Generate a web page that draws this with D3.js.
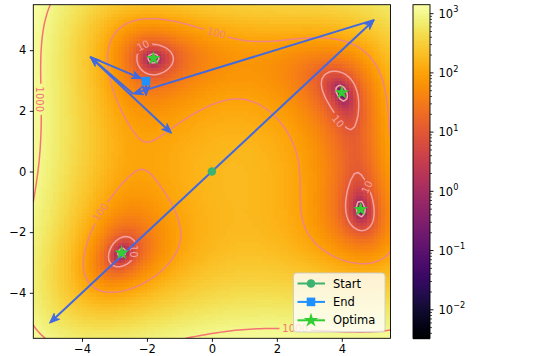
<!DOCTYPE html>
<html>
<head>
<meta charset="utf-8">
<script src="https://cdn.jsdelivr.net/npm/d3@7"></script>
<style>
body { margin: 0; background: #fff; }
text { font-family: "DejaVu Sans", sans-serif; }
</style>
</head>
<body>
<svg id="chart" width="538" height="356"></svg>
<script>
// Surface: Himmelblau function shifted so its four minima sit on the stars
var shift = [1, 0.6];
var gridN = 100;
var extent = [-5.5, 5.5];
var colorLimits = [0.0033, 1417];

var contourLevels = [1, 10, 100, 1000];
var contourColors = ["#f5a8a8", "#f4a2a2", "#f08484", "#f47474"];
// level, x, y, rotation
var contourLabels = [
    [1000, -5.32, 2.38, 90],
    [1000, 2.56, -5.18, 0],
    [100, 0.13, 4.57, 15],
    [100, -3.44, -1.34, -55],
    [10, -2.12, 4.15, -26],
    [10, 3.88, 1.66, 50],
    [10, -2.42, -2.63, 90],
    [10, 4.78, -0.51, -65]
];

var xTicks = [-4, -2, 0, 2, 4];
var yTicks = [-4, -2, 0, 2, 4];
var cbarTicks = [1e-2, 1e-1, 1e0, 1e1, 1e2, 1e3];

var startPoint = [0, 0];
var endPoint = [-2.03, 2.98];
var optima = [[-1.8, 3.73], [4.0, 2.6], [4.58, -1.25], [-2.78, -2.68]];
// x1, y1, x2, y2 for every step arrow
var pathArrows = [
    [0, 0, 5, 5],
    [0, 0, -5, -5],
    [5, 5, -2.43, 2.56],
    [-2.43, 2.56, -3.75, 3.78],
    [-3.75, 3.78, -1.24, 1.26],
    [-3.75, 3.78, -2.16, 3.06],
    [-2.03, 2.98, -2.03, 2.5]
];
var legendItems = ["Start", "End", "Optima"];

var plot = { left: 33.3, right: 390.5, top: 4.7, bottom: 338.3 };
var cbar = { left: 413, right: 430 };

var svg = d3.select("#chart");

var x = d3.scaleLinear().domain(extent).range([plot.left, plot.right]);
var y = d3.scaleLinear().domain(extent).range([plot.bottom, plot.top]);
var color = d3.scaleSequentialLog(d3.interpolateInferno).domain(colorLimits).clamp(true);
var cbarY = d3.scaleLog().domain(colorLimits).range([plot.bottom, plot.top]);

function surface(px, py) {
    var u = px - shift[0], v = py - shift[1];
    return Math.pow(u * u + v - 11, 2) + Math.pow(u + v * v - 7, 2);
}

// Sample the grid
var step = (extent[1] - extent[0]) / (gridN - 1);
var values = new Array(gridN * gridN);
for (var j = 0; j < gridN; j++) {
    for (var i = 0; i < gridN; i++) {
        values[j * gridN + i] = surface(extent[0] + i * step, extent[0] + j * step);
    }
}

svg.append("clipPath").attr("id", "plotClip")
    .append("rect")
    .attr("x", plot.left).attr("y", plot.top)
    .attr("width", plot.right - plot.left).attr("height", plot.bottom - plot.top);

// Heatmap cells
var cellW = x(step) - x(0);
var cellH = y(0) - y(step);
svg.append("g")
    .attr("clip-path", "url(#plotClip)")
    .attr("shape-rendering", "crispEdges")
    .selectAll("rect")
    .data(d3.range(gridN * gridN))
    .enter()
    .append("rect")
    .attr("x", function (k) { return x(extent[0] + (k % gridN) * step) - cellW / 2; })
    .attr("y", function (k) { return y(extent[0] + Math.floor(k / gridN) * step) - cellH / 2; })
    .attr("width", cellW + 0.6)
    .attr("height", cellH + 0.6)
    .attr("fill", function (k) { return color(values[k]); });

// Mask to cut gaps in the contour lines under the labels
var mask = svg.append("mask").attr("id", "labelMask")
    .attr("maskUnits", "userSpaceOnUse")
    .attr("x", 0).attr("y", 0).attr("width", 538).attr("height", 356);
mask.append("rect").attr("width", 538).attr("height", 356).attr("fill", "white");
mask.selectAll(".gap").data(contourLabels).enter()
    .append("rect")
    .attr("x", function (d) { return -String(d[0]).length * 3.4 - 2; })
    .attr("y", -5)
    .attr("width", function (d) { return String(d[0]).length * 6.8 + 4; })
    .attr("height", 10)
    .attr("fill", "black")
    .attr("transform", function (d) { return "translate(" + x(d[1]) + "," + y(d[2]) + ") rotate(" + d[3] + ")"; });

// Contours
var contours = d3.contours().size([gridN, gridN]).thresholds(contourLevels)(values);
var proj = d3.geoTransform({
    point: function (cx, cy) {
        this.stream.point(x(extent[0] + (cx - 0.5) * step), y(extent[0] + (cy - 0.5) * step));
    }
});
var geoPath = d3.geoPath(proj);
svg.append("g")
    .attr("clip-path", "url(#plotClip)")
    .append("g")
    .attr("mask", "url(#labelMask)")
    .selectAll("path")
    .data(contours)
    .enter()
    .append("path")
    .attr("d", geoPath)
    .attr("fill", "none")
    .attr("stroke", function (d) { return contourColors[contourLevels.indexOf(d.value)]; })
    .attr("stroke-width", 1.5);

svg.append("g").selectAll("text")
    .data(contourLabels)
    .enter()
    .append("text")
    .attr("transform", function (d) { return "translate(" + x(d[1]) + "," + y(d[2]) + ") rotate(" + d[3] + ")"; })
    .attr("text-anchor", "middle")
    .attr("dominant-baseline", "central")
    .style("font-size", "10px")
    .attr("fill", function (d) { return contourColors[contourLevels.indexOf(d[0])]; })
    .text(function (d) { return d[0]; });

// Step arrows
var arrowColor = "#4169e1";
var headLen = 10, headHalf = 4;
var arrows = svg.append("g").attr("clip-path", "url(#plotClip)");
pathArrows.forEach(function (a) {
    var x1 = x(a[0]), y1 = y(a[1]), x2 = x(a[2]), y2 = y(a[3]);
    var dx = x2 - x1, dy = y2 - y1, len = Math.sqrt(dx * dx + dy * dy);
    var ux = dx / len, uy = dy / len;
    arrows.append("line")
        .attr("x1", x1).attr("y1", y1)
        .attr("x2", x2 - ux * headLen * 0.6).attr("y2", y2 - uy * headLen * 0.6)
        .attr("stroke", arrowColor)
        .attr("stroke-width", 2);
    var bx = x2 - ux * headLen, by = y2 - uy * headLen;
    arrows.append("path")
        .attr("d", "M" + x2 + "," + y2 +
            "L" + (bx - uy * headHalf) + "," + (by + ux * headHalf) +
            "L" + (x2 - ux * headLen * 0.7) + "," + (y2 - uy * headLen * 0.7) +
            "L" + (bx + uy * headHalf) + "," + (by - ux * headHalf) + "Z")
        .attr("fill", arrowColor)
        .attr("stroke", arrowColor)
        .attr("stroke-width", 1)
        .attr("stroke-linejoin", "miter");
});

// Markers
var starPath = d3.symbol().type(d3.symbolStar).size(66);
svg.append("circle")
    .attr("cx", x(startPoint[0])).attr("cy", y(startPoint[1]))
    .attr("r", 4.3)
    .attr("fill", "#3cb371");
svg.append("rect")
    .attr("x", x(endPoint[0]) - 4.3).attr("y", y(endPoint[1]) - 4.3)
    .attr("width", 8.6).attr("height", 8.6)
    .attr("fill", "#1e90ff");
svg.append("g").selectAll("path")
    .data(optima)
    .enter()
    .append("path")
    .attr("d", starPath)
    .attr("transform", function (d) { return "translate(" + x(d[0]) + "," + y(d[1]) + ")"; })
    .attr("fill", "#32cd32");

// Axes
var xAxis = svg.append("g")
    .attr("transform", "translate(0," + plot.bottom + ")")
    .call(d3.axisBottom(x).tickValues(xTicks).tickSize(3.5).tickPadding(3.5));
var yAxis = svg.append("g")
    .attr("transform", "translate(" + plot.left + ",0)")
    .call(d3.axisLeft(y).tickValues(yTicks).tickSize(3.5).tickPadding(3.5));
[xAxis, yAxis].forEach(function (g) {
    g.select(".domain").remove();
    g.selectAll("text").style("font-family", "DejaVu Sans").style("font-size", "11.5px").attr("fill", "#000");
    g.selectAll("line").attr("stroke", "#000").attr("stroke-width", 0.9);
});

svg.append("rect")
    .attr("x", plot.left).attr("y", plot.top)
    .attr("width", plot.right - plot.left).attr("height", plot.bottom - plot.top)
    .attr("fill", "none").attr("stroke", "#000").attr("stroke-width", 0.9);

// Legend
var legend = svg.append("g");
legend.append("rect")
    .attr("x", 293.5).attr("y", 273)
    .attr("width", 91.5).attr("height", 59)
    .attr("rx", 3)
    .attr("fill", "white").attr("fill-opacity", 0.8)
    .attr("stroke", "#cccccc").attr("stroke-width", 0.9);
var legendColors = ["#3cb371", "#1e90ff", "#32cd32"];
legendItems.forEach(function (name, k) {
    var ly = 283.5 + k * 18.4;
    legend.append("line")
        .attr("x1", 297.5).attr("x2", 325)
        .attr("y1", ly).attr("y2", ly)
        .attr("stroke", legendColors[k]).attr("stroke-width", 2);
    if (k === 0) {
        legend.append("circle").attr("cx", 311).attr("cy", ly).attr("r", 4.3).attr("fill", legendColors[k]);
    } else if (k === 1) {
        legend.append("rect").attr("x", 311 - 4.3).attr("y", ly - 4.3).attr("width", 8.6).attr("height", 8.6).attr("fill", legendColors[k]);
    } else {
        legend.append("path").attr("d", starPath).attr("transform", "translate(311," + ly + ")").attr("fill", legendColors[k]);
    }
    legend.append("text")
        .attr("x", 333).attr("y", ly)
        .attr("dominant-baseline", "central")
        .style("font-size", "11.5px")
        .text(name);
});

// Colorbar
var cbarG = svg.append("g");
cbarG.selectAll("rect")
    .data(d3.range(Math.floor(plot.top), Math.ceil(plot.bottom)))
    .enter()
    .append("rect")
    .attr("x", cbar.left)
    .attr("y", function (p) { return p; })
    .attr("width", cbar.right - cbar.left)
    .attr("height", 1.2)
    .attr("fill", function (p) { return color(cbarY.invert(p + 0.5)); });
svg.append("rect")
    .attr("x", cbar.left).attr("y", plot.top)
    .attr("width", cbar.right - cbar.left).attr("height", plot.bottom - plot.top)
    .attr("fill", "none").attr("stroke", "#000").attr("stroke-width", 0.9);

var minorTicks = [];
for (var e = -3; e <= 3; e++) {
    for (var m = 2; m <= 9; m++) {
        var v = m * Math.pow(10, e);
        if (v > colorLimits[0] && v < colorLimits[1]) minorTicks.push(v);
    }
}
svg.append("g").selectAll("line")
    .data(minorTicks)
    .enter()
    .append("line")
    .attr("x1", cbar.right).attr("x2", cbar.right + 2)
    .attr("y1", function (d) { return cbarY(d); })
    .attr("y2", function (d) { return cbarY(d); })
    .attr("stroke", "#000").attr("stroke-width", 0.7);
var cbarTickG = svg.append("g").selectAll("g")
    .data(cbarTicks)
    .enter()
    .append("g")
    .attr("transform", function (d) { return "translate(" + cbar.right + "," + cbarY(d) + ")"; });
cbarTickG.append("line")
    .attr("x2", 3.5)
    .attr("stroke", "#000").attr("stroke-width", 0.9);
var cbarText = cbarTickG.append("text")
    .attr("x", 8.5)
    .attr("y", 4.2)
    .style("font-size", "11.5px");
cbarText.append("tspan").text("10");
cbarText.append("tspan")
    .attr("dy", -5.5)
    .style("font-size", "8.2px")
    .text(function (d) { var p = Math.round(Math.log10(d)); return (p < 0 ? "\u2212" : "") + Math.abs(p); });
</script>
</body>
</html>
